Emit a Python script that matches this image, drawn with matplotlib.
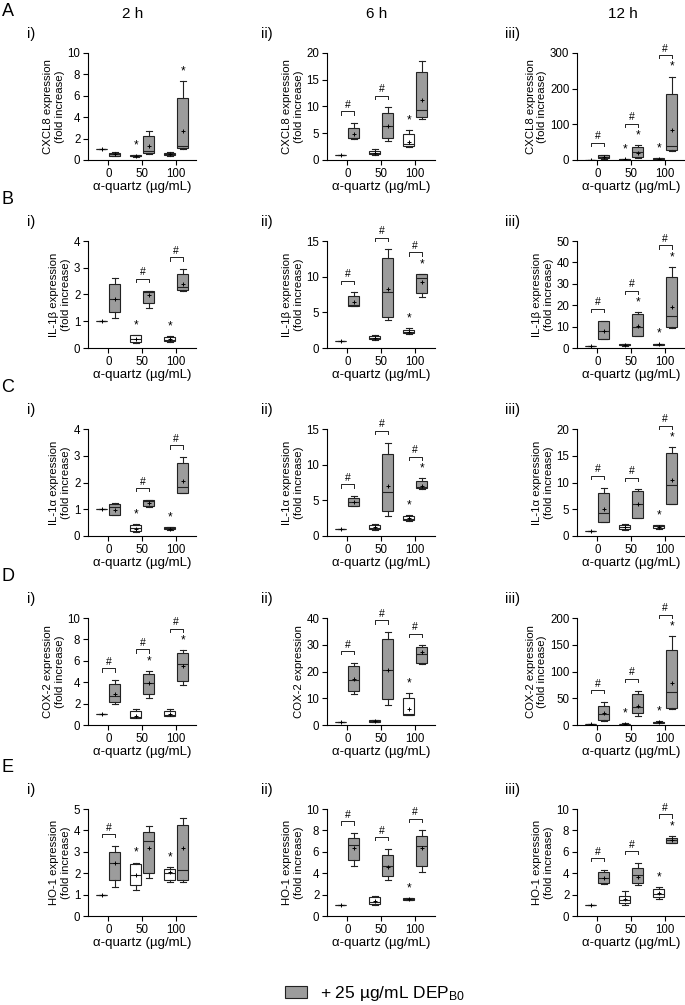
import matplotlib
matplotlib.use("Agg")
import matplotlib.pyplot as plt
from matplotlib.patches import Patch

plt.rcParams['font.family'] = ['Liberation Sans', 'DejaVu Sans']
plt.rcParams['mathtext.default'] = 'regular'

# ---------------- data ----------------
row_letters = ["A", "B", "C", "D", "E"]
col_labels = ["i)", "ii)", "iii)"]
times = ["2 h", "6 h", "12 h"]
doses = ["0", "50", "100"]
genes = ["CXCL8", "IL-1β", "IL-1α", "COX-2", "HO-1"]

# each box: (whisker low, q1, median, q3, whisker high, mean)
ONE = (1, 1, 1, 1, 1, 1)
# --- A: CXCL8
A1_ctrl = [ONE, (0.30, 0.35, 0.40, 0.45, 0.48, 0.40), (0.40, 0.45, 0.60, 0.70, 0.75, 0.58)]
A1_dep = [(0.35, 0.42, 0.55, 0.68, 0.75, 0.55), (0.55, 0.62, 0.85, 2.26, 2.75, 1.30), (1.05, 1.10, 1.33, 5.82, 7.37, 2.75)]
A1_sig = ["", "c", "d"]
A2_ctrl = [ONE, (1.0, 1.1, 1.3, 1.6, 2.0, 1.4), (2.35, 2.66, 3.0, 4.83, 5.6, 3.4)]
A2_dep = [(3.9, 4.1, 4.2, 6.07, 6.87, 4.83), (3.47, 4.2, 6.38, 8.85, 9.85, 6.4), (7.68, 8.0, 9.35, 16.5, 18.45, 11.2)]
A2_sig = ["#", "#", "c"]
A3_ctrl = [ONE, (1.0, 1.2, 1.5, 1.8, 2.0, 1.5), (2, 2.5, 3, 5, 6, 3.5)]
A3_dep = [(2, 5, 9, 13, 15, 9), (5.6, 7.5, 21.5, 35.5, 41, 19.6), (26, 27, 38, 185, 234, 84)]
A3_sig = ["#", "cd#", "cd#"]
# --- B: IL-1beta
B1_ctrl = [ONE, (0.18, 0.22, 0.35, 0.47, 0.50, 0.35), (0.22, 0.25, 0.31, 0.41, 0.45, 0.33)]
B1_dep = [(1.14, 1.34, 1.82, 2.38, 2.6, 1.82), (1.51, 1.67, 2.10, 2.13, 2.14, 1.98), (2.12, 2.17, 2.28, 2.75, 2.95, 2.39)]
B1_sig = ["", "c#", "c#"]
B2_ctrl = [ONE, (1.1, 1.2, 1.4, 1.7, 1.8, 1.45), (2.0, 2.09, 2.3, 2.55, 2.8, 2.3)]
B2_dep = [(5.9, 5.95, 6.0, 7.34, 7.8, 6.4), (3.9, 4.4, 7.8, 12.68, 13.84, 8.27), (7.1, 7.66, 9.8, 10.36, 10.4, 9.2)]
B2_sig = ["#", "#", "cd#"]
B3_ctrl = [ONE, (1.1, 1.2, 1.5, 1.8, 1.9, 1.5), (1.3, 1.4, 1.7, 2.0, 2.1, 1.7)]
B3_dep = [(4.2, 4.3, 8.05, 12.4, 12.7, 8.0), (5.4, 5.6, 10, 15.9, 16.7, 10.5), (9.3, 9.6, 14.9, 33.1, 37.9, 19)]
B3_sig = ["#", "d#", "cd#"]
# --- C: IL-1alpha
C1_ctrl = [ONE, (0.15, 0.19, 0.30, 0.40, 0.46, 0.28), (0.24, 0.25, 0.29, 0.33, 0.35, 0.28)]
C1_dep = [(0.77, 0.79, 1.07, 1.2, 1.22, 0.99), (1.07, 1.11, 1.32, 1.35, 1.35, 1.23), (1.6, 1.61, 1.85, 2.72, 2.95, 2.06)]
C1_sig = ["", "c#", "c#"]
C2_ctrl = [ONE, (0.83, 0.97, 1.15, 1.6, 1.75, 1.3), (2.1, 2.2, 2.45, 2.8, 2.9, 2.5)]
C2_dep = [(4.2, 4.25, 4.75, 5.35, 5.58, 4.7), (2.8, 3.46, 6.14, 11.45, 13.06, 7.06), (6.6, 6.7, 6.9, 7.75, 8.07, 7.06)]
C2_sig = ["#", "#", "cd#"]
C3_ctrl = [ONE, (1.1, 1.24, 1.7, 2.0, 2.2, 1.6), (1.37, 1.55, 1.85, 2.05, 2.1, 1.75)]
C3_dep = [(2.67, 2.7, 4.35, 8.07, 9.0, 5.1), (3.3, 3.35, 5.9, 8.5, 8.7, 5.9), (5.9, 5.95, 9.5, 15.5, 16.6, 10.4)]
C3_sig = ["#", "#", "cd#"]
# --- D: COX-2
D1_ctrl = [ONE, (0.65, 0.68, 0.74, 1.27, 1.45, 0.83), (0.8, 0.83, 0.93, 1.3, 1.45, 0.99)]
D1_dep = [(1.94, 2.13, 2.69, 3.83, 4.2, 2.9), (2.53, 2.9, 3.89, 4.8, 5.06, 3.89), (3.73, 4.14, 5.74, 6.76, 7.0, 5.56)]
D1_sig = ["#", "d#", "d#"]
D2_ctrl = [ONE, (1.1, 1.2, 1.5, 1.8, 1.9, 1.5), (3.6, 3.7, 4.0, 10.2, 12.05, 5.84)]
D2_dep = [(11.7, 12.7, 16.9, 22.2, 23.2, 17.3), (7.45, 9.8, 20.7, 32.2, 34.7, 20.7), (22.9, 23.0, 26.7, 29.1, 29.8, 27.2)]
D2_sig = ["#", "#", "c#"]
D3_ctrl = [ONE, (1.2, 1.5, 2, 2.5, 3, 2), (3.5, 4, 5, 6.5, 8, 5.5)]
D3_dep = [(7, 10, 20, 35, 43, 22), (17, 23, 34, 58, 64, 36), (30, 32, 62, 141, 166, 79)]
D3_sig = ["#", "c#", "cd#"]
# --- E: HO-1
E1_ctrl = [ONE, (1.2, 1.45, 1.9, 2.45, 2.5, 1.9), (1.6, 1.68, 2.0, 2.2, 2.3, 2.05)]
E1_dep = [(1.36, 1.68, 2.48, 3.0, 3.27, 2.48), (1.78, 2.0, 3.5, 3.92, 4.2, 3.18), (1.6, 1.68, 2.15, 4.25, 4.58, 3.2)]
E1_sig = ["#", "c", "c"]
E2_ctrl = [ONE, (1.0, 1.1, 1.3, 1.8, 1.9, 1.4), (1.5, 1.52, 1.6, 1.65, 1.7, 1.6)]
E2_dep = [(4.7, 5.2, 6.6, 7.3, 7.75, 6.4), (3.36, 3.73, 4.67, 5.7, 6.26, 4.58), (4.1, 4.67, 6.5, 7.48, 8.0, 6.4)]
E2_sig = ["#", "#", "c#"]
E3_ctrl = [ONE, (1.0, 1.2, 1.5, 1.9, 2.3, 1.55), (1.6, 1.8, 2.1, 2.5, 2.7, 2.15)]
E3_dep = [(3.0, 3.05, 3.55, 4.1, 4.3, 3.55), (2.9, 3.1, 3.83, 4.5, 4.95, 3.65), (6.8, 6.85, 7.1, 7.3, 7.5, 7.1)]
E3_sig = ["#", "#", "cd#"]

# y axis (max, step) per panel
y_scales = [[(10, 2), (20, 5), (300, 100)],
            [(4, 1), (15, 5), (50, 10)],
            [(4, 1), (15, 5), (20, 5)],
            [(10, 2), (40, 10), (200, 50)],
            [(5, 1), (10, 2), (10, 2)]]

legend_label = "+ 25 µg/mL DEP$_{B0}$"

panels = [[(A1_ctrl, A1_dep, A1_sig), (A2_ctrl, A2_dep, A2_sig), (A3_ctrl, A3_dep, A3_sig)],
          [(B1_ctrl, B1_dep, B1_sig), (B2_ctrl, B2_dep, B2_sig), (B3_ctrl, B3_dep, B3_sig)],
          [(C1_ctrl, C1_dep, C1_sig), (C2_ctrl, C2_dep, C2_sig), (C3_ctrl, C3_dep, C3_sig)],
          [(D1_ctrl, D1_dep, D1_sig), (D2_ctrl, D2_dep, D2_sig), (D3_ctrl, D3_dep, D3_sig)],
          [(E1_ctrl, E1_dep, E1_sig), (E2_ctrl, E2_dep, E2_sig), (E3_ctrl, E3_dep, E3_sig)]]

# ---------------- layout ----------------
W, H = 685, 1005
fig = plt.figure(figsize=(W / 100, H / 100), dpi=100)
GREY = '#9c9c9c'
EDGE = '#222222'
lefts = [88, 327, 577]
tops = [53, 241, 429, 618, 809]
aw, ah = 108, 107
off = 0.19
bw = 0.32


def fx(px):
    return px / W


def fy(py):
    return 1 - py / H


def to_stats(vals):
    lo, q1, med, q3, hi, mean = vals
    return dict(whislo=lo, q1=q1, med=med, q3=q3, whishi=hi, mean=mean, fliers=[])


header_x = [133, 377, 623]
for c, t in enumerate(times):
    fig.text(fx(header_x[c]), fy(14), t, ha='center', va='center', fontsize=11)

sub_x = [31, 267, 513]

for r in range(5):
    fig.text(fx(8), fy(tops[r] - 42), row_letters[r], ha='center', va='center', fontsize=13)
    for c in range(3):
        ctrl, dep, sig = panels[r][c]
        ymax, step = y_scales[r][c]
        ax = fig.add_axes([fx(lefts[c]), fy(tops[r] + ah), fx(aw), ah / H])
        fig.text(fx(sub_x[c]), fy(tops[r] - 19), col_labels[c], ha='center', va='center', fontsize=10.5)
        pos = list(range(len(doses)))
        common = dict(widths=bw, showmeans=True, patch_artist=True, capwidths=bw * 0.55,
                      medianprops=dict(color=EDGE, lw=0.8),
                      whiskerprops=dict(color=EDGE, lw=0.8),
                      capprops=dict(color=EDGE, lw=0.8),
                      meanprops=dict(marker='+', markersize=3.5, markeredgecolor='black',
                                     markeredgewidth=0.7, linestyle='none'))
        ax.bxp([to_stats(v) for v in ctrl], positions=[p - off for p in pos],
               boxprops=dict(facecolor='white', edgecolor=EDGE, lw=0.8), **common)
        ax.bxp([to_stats(v) for v in dep], positions=[p + off for p in pos],
               boxprops=dict(facecolor=GREY, edgecolor=EDGE, lw=0.8), **common)

        # significance marks
        for i, s in enumerate(sig):
            top_y = max(ctrl[i][4], dep[i][4])
            if 'c' in s:
                ys = ctrl[i][4] + 0.09 * ymax
                ax.text(i - off, ys, '*', ha='center', va='center', fontsize=8.5, clip_on=False)
                top_y = max(top_y, ys)
            if 'd' in s:
                ys = dep[i][4] + 0.09 * ymax
                ax.text(i + off, ys, '*', ha='center', va='center', fontsize=8.5, clip_on=False)
                top_y = max(top_y, ys)
            if '#' in s:
                yb = top_y + 0.11 * ymax
                tk = 0.03 * ymax
                ax.plot([i - off, i - off, i + off, i + off], [yb - tk, yb, yb, yb - tk],
                        color=EDGE, lw=0.7, clip_on=False)
                ax.text(i, yb + 0.015 * ymax, '#', ha='center', va='bottom', fontsize=7.5, clip_on=False)

        ax.set_xlim(-0.6, 2.58)
        ax.set_ylim(0, ymax)
        ax.set_yticks([k * step for k in range(int(round(ymax / step)) + 1)])
        ax.set_xticks(pos)
        ax.set_xticklabels(doses)
        ax.spines['top'].set_visible(False)
        ax.spines['right'].set_visible(False)
        for sp in ('left', 'bottom'):
            ax.spines[sp].set_linewidth(0.8)
        ax.tick_params(labelsize=8.3, length=3.5, width=0.8, pad=2)
        if r == 3 and c == 1:
            ylab = genes[r] + " expression"
        else:
            ylab = genes[r] + " expression\n(fold increase)"
        ax.set_ylabel(ylab, fontsize=8.2, labelpad=2)
        ax.set_xlabel("α-quartz (µg/mL)", fontsize=9.5, labelpad=1)

handle = Patch(facecolor=GREY, edgecolor=EDGE, lw=0.8, label=legend_label)
fig.legend(handles=[handle], loc='center', bbox_to_anchor=(0.547, 0.011), frameon=False,
           fontsize=12.5, handlelength=1.3, handleheight=0.7, handletextpad=0.7)

fig.savefig("out.png", dpi=100)
